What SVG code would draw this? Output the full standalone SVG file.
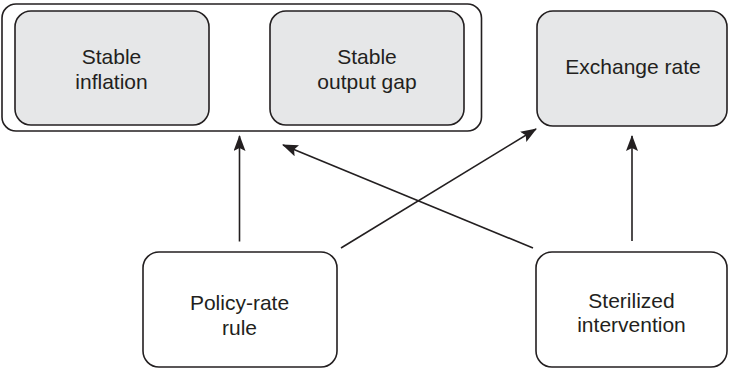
<svg xmlns="http://www.w3.org/2000/svg" width="729" height="369" viewBox="0 0 729 369">
<style>
.box{fill:#fff;stroke:#231f20;stroke-width:1.6}
.gray{fill:#e6e7e8;stroke:#231f20;stroke-width:1.6}
.lbl{font-family:"Liberation Sans",Arial,sans-serif;font-size:21px;fill:#231f20;text-anchor:middle}
.con{stroke:#231f20;stroke-width:1.6;fill:none;marker-end:url(#ah)}
</style>
<defs>
<marker id="ah" viewBox="0 0 16 12" refX="15" refY="6" markerWidth="16" markerHeight="12" markerUnits="userSpaceOnUse" orient="auto">
<path d="M0,0 L16,6 L0,12 L3,6 Z" fill="#231f20"/>
</marker>
</defs>
<rect width="729" height="369" fill="#fff"/>
<g id="targets">
<rect class="box" x="2" y="4" width="479.5" height="127" rx="14"/>
</g>
<g id="stable-inflation">
<rect class="gray" x="15" y="11" width="194" height="114" rx="16"/>
<text class="lbl" x="111.5" y="63.5">Stable</text>
<text class="lbl" x="111.5" y="88.5">inflation</text>
</g>
<g id="stable-output-gap">
<rect class="gray" x="270" y="11" width="194" height="114" rx="16"/>
<text class="lbl" x="367" y="63.5">Stable</text>
<text class="lbl" x="367" y="88.5">output gap</text>
</g>
<g id="exchange-rate">
<rect class="gray" x="537" y="11" width="190" height="115" rx="16"/>
<text class="lbl" x="633" y="74">Exchange rate</text>
</g>
<g id="policy-rate-rule">
<rect class="box" x="143" y="252" width="194" height="115" rx="16"/>
<text class="lbl" x="239.5" y="310">Policy-rate</text>
<text class="lbl" x="239.5" y="334.5">rule</text>
</g>
<g id="sterilized-intervention">
<rect class="box" x="536" y="252" width="191" height="115" rx="16"/>
<text class="lbl" x="631.5" y="307.5">Sterilized</text>
<text class="lbl" x="631.5" y="332">intervention</text>
</g>
<g id="connectors">
<line class="con" x1="239.5" y1="241.5" x2="239.5" y2="136"/>
<line class="con" x1="341" y1="248" x2="536" y2="129"/>
<line class="con" x1="533" y1="248" x2="283" y2="145"/>
<line class="con" x1="632" y1="241" x2="632" y2="136"/>
</g>
</svg>
